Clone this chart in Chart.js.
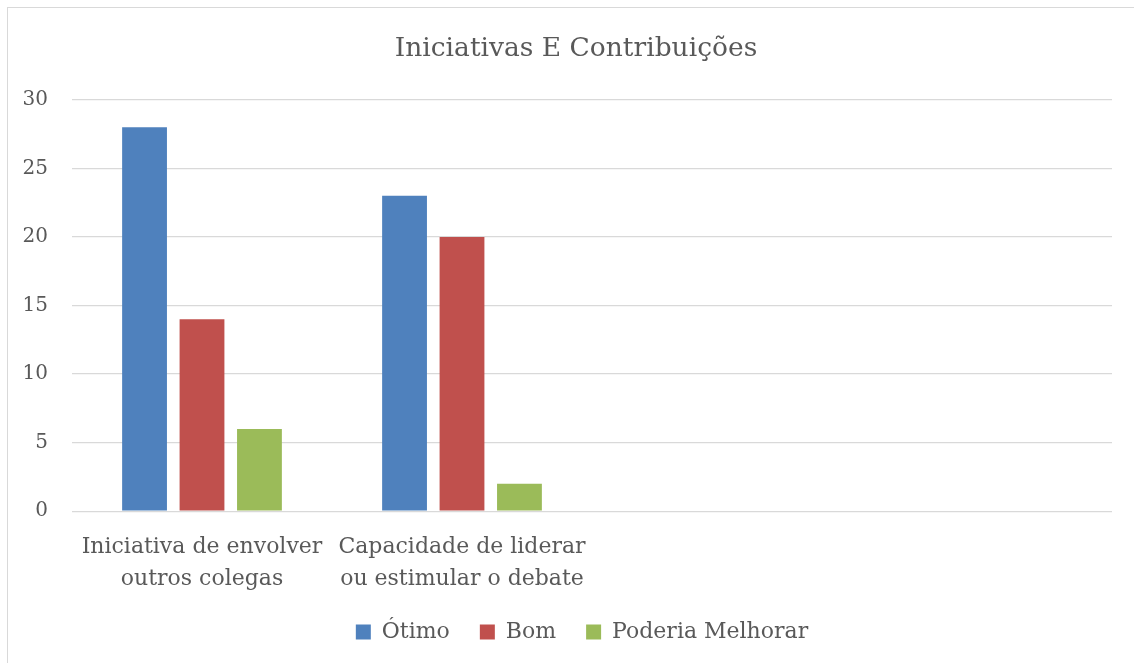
<!DOCTYPE html>
<html>
<head>
<meta charset="utf-8">
<script src="https://cdn.jsdelivr.net/npm/chart.js@4/dist/chart.umd.min.js"></script>
<style>
  body { margin: 0; background: #fff; }
  #frame { position: absolute; left: 7px; top: 7px; width: 1140px; height: 670px; border-left: 1px solid #d9d9d9; border-top: 1px solid #d9d9d9; }
  #wrap { position: absolute; left: 0; top: 0; width: 1134px; height: 663px; }
</style>
</head>
<body>
<div id="frame"></div>
<div id="wrap"><canvas id="chart"></canvas></div>
<script>
// categories (last two slots are empty in the original)
var categories = [
  ["Iniciativa de envolver", "outros colegas"],
  ["Capacidade de liderar", "ou estimular o debate"],
  "",
  ""
];
var otimo = [28, 23, null, null];
var bom = [14, 20, null, null];
var poderiaMelhorar = [6, 2, null, null];
var yTicks = [0, 5, 10, 15, 20, 25, 30];

var serif = "'DejaVu Serif', serif";
var textColor = "#595959";

// nudge title and legend to the right, the way the original is centred
var shiftBoxes = {
  id: 'shiftBoxes',
  afterLayout: function (chart) {
    chart.titleBlock.left += 20;
    chart.titleBlock.right += 20;
    chart.legend.left += 26;
    chart.legend.right += 26;
  }
};

var ctx = document.getElementById('chart').getContext('2d');
var chart = new Chart(ctx, {
  type: 'bar',
  data: {
    labels: categories,
    datasets: [
      { label: "Ótimo", data: otimo, backgroundColor: "#4f81bd" },
      { label: "Bom", data: bom, backgroundColor: "#c0504d" },
      { label: "Poderia Melhorar", data: poderiaMelhorar, backgroundColor: "#9bbb59" }
    ]
  },
  plugins: [shiftBoxes],
  options: {
    responsive: true,
    maintainAspectRatio: false,
    animation: false,
    layout: { padding: { left: 0, right: 22, top: 33, bottom: 10 } },
    datasets: { bar: { categoryPercentage: 0.663, barPercentage: 0.78 } },
    plugins: {
      title: {
        display: true,
        text: "Iniciativas E Contribuições",
        color: textColor,
        font: { family: serif, size: 26.5, weight: 'normal' },
        padding: { top: 0, bottom: 35 }
      },
      legend: {
        position: 'bottom',
        labels: {
          color: textColor,
          font: { family: serif, size: 22 },
          boxWidth: 15,
          boxHeight: 15,
          padding: 30
        }
      },
      tooltip: { enabled: false }
    },
    scales: {
      x: {
        grid: { display: false },
        border: { display: false },
        ticks: {
          color: textColor,
          font: { family: serif, size: 22, lineHeight: 1.45 },
          maxRotation: 0,
          autoSkip: false,
          padding: 12
        },
        afterFit: function (axis) { axis.height -= 16; }
      },
      y: {
        min: 0,
        max: 30,
        afterBuildTicks: function (axis) {
          axis.ticks = yTicks.map(function (v) { return { value: v }; });
        },
        afterFit: function (axis) { axis.width = 72; },
        grid: { color: "#d9d9d9", lineWidth: 1.3, drawTicks: false },
        border: { display: false },
        ticks: {
          color: textColor,
          font: { family: serif, size: 20 },
          padding: 24
        }
      }
    }
  }
});
</script>
</body>
</html>
